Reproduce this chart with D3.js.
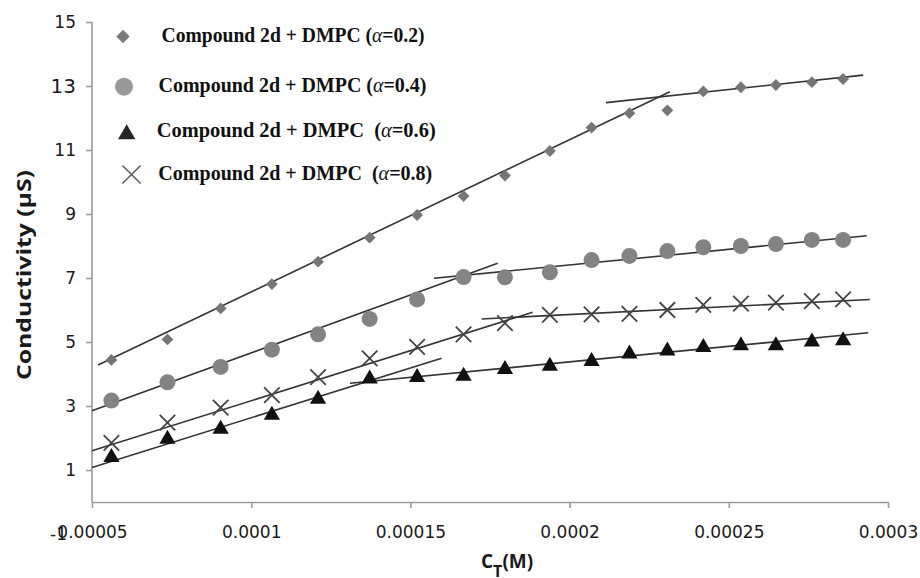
<!DOCTYPE html>
<html>
<head>
<meta charset="utf-8">
<script src="https://cdn.jsdelivr.net/npm/d3@7"></script>
<style>
  body { margin: 0; background: #fff; }
  svg { display: block; }
</style>
</head>
<body>
<svg id="chart" width="920" height="578"></svg>
<script>
// Total concentration C_T (M) of each conductivity reading
const concentration = [0.0000561, 0.0000737, 0.0000904, 0.0001065, 0.0001210, 0.0001372,
  0.0001521, 0.0001667, 0.0001797, 0.0001938, 0.0002069, 0.0002188,
  0.0002307, 0.0002420, 0.0002538, 0.0002648, 0.0002761, 0.0002859];

// Conductivity (µS) for each mole fraction α
const alpha02 = [4.44, 5.08, 6.05, 6.81, 7.51, 8.26, 8.97, 9.56, 10.20, 10.97, 11.70, 12.15, 12.24, 12.83, 12.96, 13.03, 13.12, 13.22];
const alpha04 = [3.17, 3.74, 4.22, 4.76, 5.24, 5.72, 6.33, 7.03, 7.02, 7.18, 7.56, 7.69, 7.84, 7.96, 8.00, 8.06, 8.19, 8.19];
const alpha06 = [1.47, 2.04, 2.35, 2.79, 3.29, 3.92, 3.97, 4.01, 4.22, 4.32, 4.47, 4.70, 4.80, 4.91, 4.96, 4.96, 5.08, 5.12];
const alpha08 = [1.85, 2.48, 2.95, 3.34, 3.90, 4.49, 4.85, 5.24, 5.59, 5.85, 5.86, 5.88, 6.00, 6.16, 6.20, 6.23, 6.28, 6.33];

// Linear fits below and above the break point: [c start, κ start, c end, κ end]
const fit02 = [[0.0000519, 4.28, 0.0002315, 12.82], [0.0002114, 12.48, 0.0002922, 13.34]];
const fit04 = [[0.00005, 2.85, 0.0001774, 7.46], [0.0001574, 6.99, 0.0002933, 8.32]];
const fit06 = [[0.00005, 1.08, 0.0001598, 4.49], [0.0001310, 3.71, 0.0002938, 5.29]];
const fit08 = [[0.00005, 1.60, 0.0001884, 5.93], [0.0001724, 5.72, 0.0002943, 6.33]];

const legendLabels = ["0.2", "0.4", "0.6", "0.8"];
const xTicks = [0.00005, 0.0001, 0.00015, 0.0002, 0.00025, 0.0003];
const xTickLabels = ["0.00005", "0.0001", "0.00015", "0.0002", "0.00025", "0.0003"];
const yTicks = [-1, 1, 3, 5, 7, 9, 11, 13, 15];

const svg = d3.select("#chart");

const x = d3.scaleLinear().domain([0.00005, 0.0003]).range([92, 888]);
const y = d3.scaleLinear().domain([-1, 15]).range([534, 22]);

// Marker shapes
const diamond = { draw(ctx, size) { const r = Math.sqrt(size / 2);
  ctx.moveTo(0, -r); ctx.lineTo(r, 0); ctx.lineTo(0, r); ctx.lineTo(-r, 0); ctx.closePath(); } };
const triangle = { draw(ctx, size) { const w = Math.sqrt(size) * 0.58, h = Math.sqrt(size) * 0.5;
  ctx.moveTo(0, -h); ctx.lineTo(w, h); ctx.lineTo(-w, h); ctx.closePath(); } };
const cross = { draw(ctx, size) { const r = Math.sqrt(size) / 2;
  ctx.moveTo(-r, -r); ctx.lineTo(r, r); ctx.moveTo(r, -r); ctx.lineTo(-r, r); } };

const series = [
  { values: alpha02, fits: fit02, type: diamond, size: 70, fill: "#767676", stroke: "none", sw: 0,
    legend: { x: 123, y: 36.5, size: 90, fill: "#7a7a7a" } },
  { values: alpha04, fits: fit04, type: d3.symbolCircle, size: 201, fill: "#838383", stroke: "none", sw: 0,
    legend: { x: 124, y: 86.7, size: 254, fill: "#999999" } },
  { values: alpha06, fits: fit06, type: triangle, size: 196, fill: "#111111", stroke: "none", sw: 0,
    legend: { x: 126.7, y: 131.7, size: 225, fill: "#262626" } },
  { values: alpha08, fits: fit08, type: cross, size: 240, fill: "none", stroke: "#444444", sw: 1.8,
    legend: { x: 131.5, y: 174.5, size: 330, fill: "none", stroke: "#5a5a5a", sw: 1.5 } }
];

// Axes
const xAxis = svg.append("g")
  .attr("transform", `translate(0,${y(0)})`)
  .call(d3.axisBottom(x).tickValues(xTicks).tickFormat((d, i) => xTickLabels[i])
    .tickSize(6).tickSizeOuter(0).tickPadding(18));
xAxis.select(".domain").attr("stroke", "#9a9a9a").attr("stroke-width", 1.6);
xAxis.selectAll(".tick line").attr("stroke", "#9a9a9a").attr("stroke-width", 1.6);
xAxis.selectAll(".tick text")
  .attr("font-family", "'DejaVu Sans', sans-serif").attr("font-size", 17).attr("fill", "#1a1a1a");

const yAxis = svg.append("g")
  .attr("transform", "translate(92,0)")
  .call(d3.axisLeft(y).tickValues(yTicks).tickFormat(d => String(d)).tickSize(6).tickPadding(10));
yAxis.select(".domain").remove();
yAxis.selectAll(".tick line").attr("stroke", "#9a9a9a").attr("stroke-width", 1.6);
yAxis.selectAll(".tick").filter(d => d < 0).select("line").remove();
yAxis.selectAll(".tick").filter(d => d < 0).select("text").attr("x", -25);
yAxis.selectAll(".tick text")
  .attr("font-family", "'DejaVu Sans', sans-serif").attr("font-size", d => d === 13 ? 20 : 17)
  .attr("fill", "#1a1a1a");
svg.append("line")
  .attr("x1", 92).attr("x2", 92).attr("y1", y(15)).attr("y2", y(0))
  .attr("stroke", "#9a9a9a").attr("stroke-width", 1.6);

// Axis titles
svg.append("text")
  .attr("transform", "translate(31,275) rotate(-90)")
  .attr("text-anchor", "middle")
  .attr("font-family", "'Open Sans', sans-serif").attr("font-weight", "bold")
  .attr("font-size", 20).attr("fill", "#1a1a1a")
  .attr("textLength", 210).attr("lengthAdjust", "spacingAndGlyphs")
  .text("Conductivity (µS)");

const xTitle = svg.append("text")
  .attr("x", 481).attr("y", 568)
  .attr("font-family", "'Open Sans', sans-serif").attr("font-weight", "bold")
  .attr("font-size", 19).attr("fill", "#1a1a1a");
xTitle.append("tspan").text("C");
xTitle.append("tspan").attr("dy", 9).attr("font-size", 16).text("T");
xTitle.append("tspan").attr("dy", -9).text("(M)");

// Fitted lines
const plot = svg.append("g");
series.forEach(s => {
  plot.selectAll(null).data(s.fits).join("line")
    .attr("x1", d => x(d[0])).attr("y1", d => y(d[1]))
    .attr("x2", d => x(d[2])).attr("y2", d => y(d[3]))
    .attr("stroke", "#333333").attr("stroke-width", 1.6);
});

// Data markers
series.forEach(s => {
  const sym = d3.symbol().type(s.type).size(s.size);
  plot.selectAll(null).data(s.values).join("path")
    .attr("transform", (d, i) => `translate(${x(concentration[i])},${y(d)})`)
    .attr("d", sym)
    .attr("fill", s.fill).attr("stroke", s.stroke).attr("stroke-width", s.sw);
});

// Legend
const legendRows = [
  { x: 161.5, y: 41.5, w: 263, gap: " " },
  { x: 158.5, y: 91.5, w: 268, gap: " " },
  { x: 156.7, y: 137, w: 279, gap: "\u00a0 " },
  { x: 158.3, y: 179.5, w: 274, gap: "\u00a0 " }
];
series.forEach((s, i) => {
  const L = s.legend;
  svg.append("path")
    .attr("transform", `translate(${L.x},${L.y})`)
    .attr("d", d3.symbol().type(s.type).size(L.size))
    .attr("fill", L.fill).attr("stroke", L.stroke || "none").attr("stroke-width", L.sw || 0);
  const r = legendRows[i];
  const t = svg.append("text")
    .attr("x", r.x).attr("y", r.y)
    .attr("font-family", "'Liberation Serif', 'Times New Roman', serif")
    .attr("font-weight", "bold").attr("font-size", 20).attr("fill", "#111")
    .attr("textLength", r.w).attr("lengthAdjust", "spacingAndGlyphs");
  t.append("tspan").text("Compound 2d + DMPC" + r.gap + "(");
  t.append("tspan").attr("font-style", "italic").attr("font-weight", "normal").text("α");
  t.append("tspan").text("=" + legendLabels[i] + ")");
});
</script>
</body>
</html>
